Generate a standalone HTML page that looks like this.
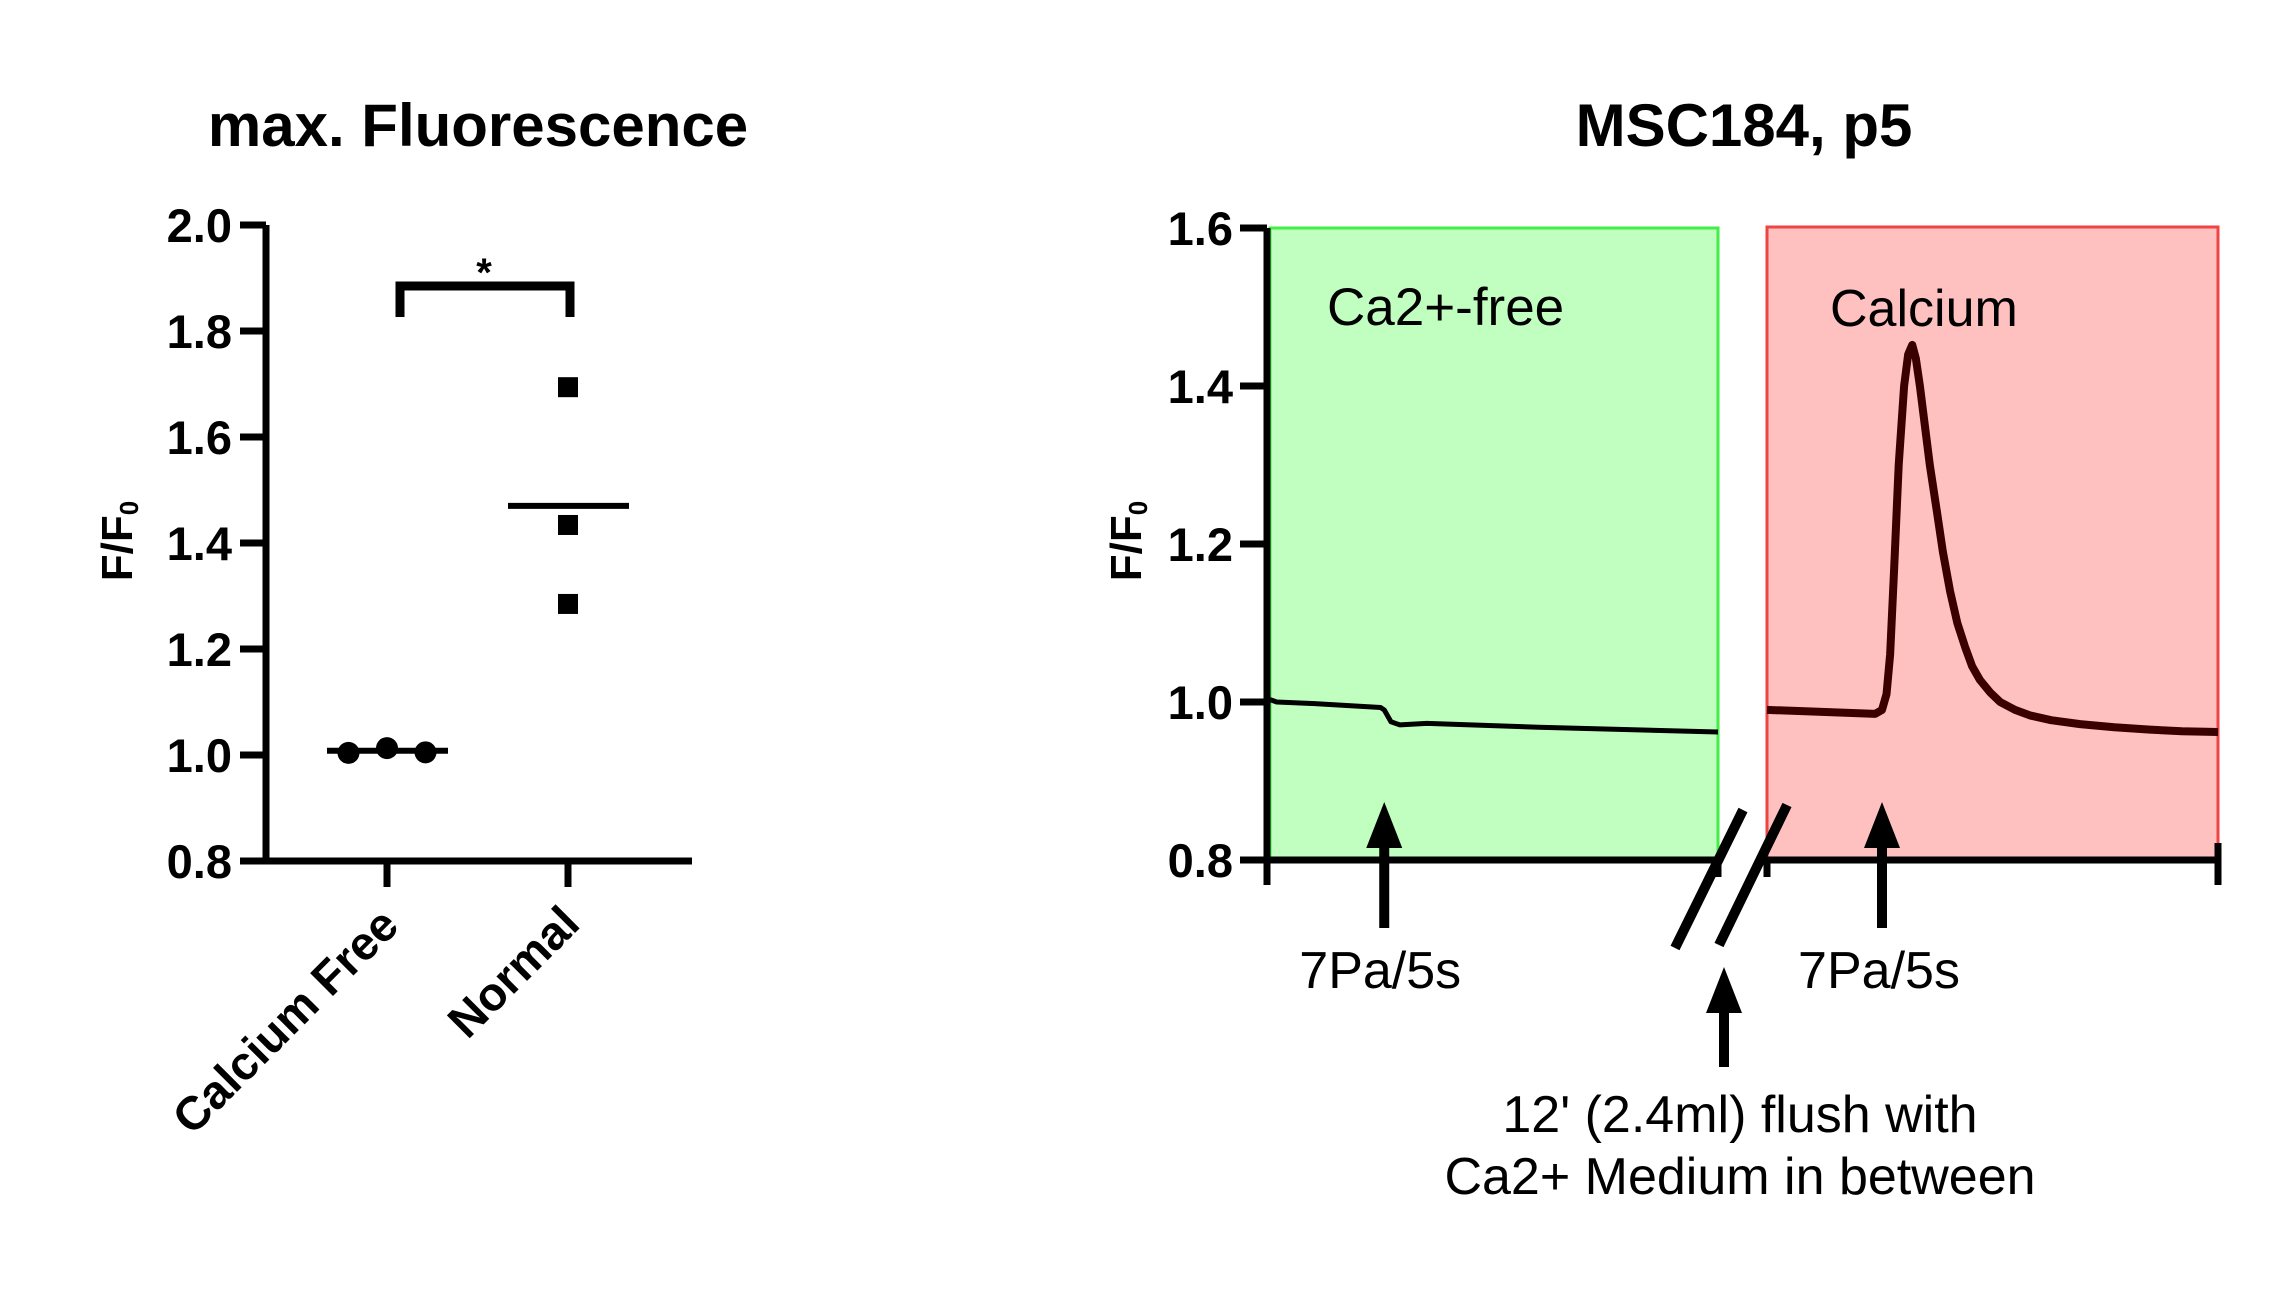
<!DOCTYPE html>
<html><head><meta charset="utf-8"><style>
html,body{margin:0;padding:0;background:#fff;}
svg{display:block;font-family:"Liberation Sans",Arial,sans-serif;}
</style></head><body>
<svg id="fig" width="2293" height="1294" viewBox="0 0 2293 1294" xmlns="http://www.w3.org/2000/svg">
<g id="left"></g>
<g id="right"></g>
</svg>
<script>
// ---- Left chart data ----
const leftCategories = ["Calcium Free", "Normal"];
const calciumFreeValues = [1.004, 1.013, 1.005];
const normalValues = [1.694, 1.434, 1.285];
const groupMeans = [1.008, 1.47];
const leftTicks = [0.8, 1.0, 1.2, 1.4, 1.6, 1.8, 2.0];
const leftTickLabels = ["0.8", "1.0", "1.2", "1.4", "1.6", "1.8", "2.0"];
// ---- Right chart data ----
const rightTicks = [0.8, 1.0, 1.2, 1.4, 1.6];
const rightTickLabels = ["0.8", "1.0", "1.2", "1.4", "1.6"];
const freeTime = [0, 1.5, 10, 24.7, 25.5, 27, 29, 35, 60, 100];
const freeValues = [1.003, 1.0, 0.998, 0.993, 0.99, 0.975, 0.971, 0.973, 0.968, 0.962];
const caTime = [0, 10, 24, 25.5, 26.5, 27.3, 28.2, 29.2, 30.4, 31.3, 32.2, 33.0, 33.9, 35.0, 36.1, 37.7, 39.0, 40.6, 42.2, 43.9, 45.5, 47.2, 49.5, 51.7, 55, 58.3, 63, 69.4, 77, 84.9, 92, 100];
const caValues = [0.99, 0.988, 0.985, 0.99, 1.01, 1.06, 1.17, 1.30, 1.40, 1.44, 1.452, 1.435, 1.40, 1.35, 1.30, 1.24, 1.19, 1.14, 1.10, 1.07, 1.045, 1.028, 1.012, 1.0, 0.99, 0.983, 0.977, 0.972, 0.968, 0.965, 0.963, 0.962];
const stimTime = [25.5, 25.5];

const NS = "http://www.w3.org/2000/svg";
function mk(parent, tag, attrs, text){
  const e = document.createElementNS(NS, tag);
  for (const k in attrs) e.setAttribute(k, attrs[k]);
  if (text !== undefined) e.textContent = text;
  parent.appendChild(e);
  return e;
}
const L = document.getElementById('left');
const R = document.getElementById('right');

// Left scales
const ly = v => 861 - (v - 0.8) * 530;
const lx = i => [387, 568][i];
let t = mk(L, 'text', {x:478, y:146, 'font-size':60, 'font-weight':'bold', 'text-anchor':'middle'}, 'max. Fluorescence');


let yt = mk(L, 'text', {x:0, y:0, 'font-size':44, 'font-weight':'bold', 'text-anchor':'middle', transform:'translate(132,541) rotate(-90)'});


yt.innerHTML = 'F/F<tspan font-size="26" dy="6">0</tspan>';
let ax = mk(L, 'path', {d:'M266 225 V861 M240 861 H692', stroke:'#000', 'stroke-width':7, fill:'none'});


leftTicks.forEach((v, i) => {
  const tk = mk(L, 'line', {x1:240, x2:266, y1:ly(v), y2:ly(v), stroke:'#000', 'stroke-width':7});
  
  
  const lb = mk(L, 'text', {x:232, y:ly(v) + 17, 'font-size':47, 'font-weight':'bold', 'text-anchor':'end'}, leftTickLabels[i]);
  
  
});
leftCategories.forEach((c, i) => {
  const tk = mk(L, 'line', {x1:lx(i), x2:lx(i), y1:861, y2:887, stroke:'#000', 'stroke-width':7});
  
  
  const ex = lx(i) + 14, ey = 928 - i * 2;
  const lb = mk(L, 'text', {x:0, y:0, 'font-size':47, 'font-weight':'bold', 'text-anchor':'end', transform:`translate(${ex},${ey}) rotate(-45)`}, c);
  
  
});
calciumFreeValues.forEach((v, i) => {
  const c = mk(L, 'circle', {cx:lx(0) + (i - 1) * 38.5, cy:ly(v), r:11, fill:'#000'});
  
  
});
normalValues.forEach(v => {
  const s = mk(L, 'rect', {x:lx(1) - 10, y:ly(v) - 10, width:20, height:20, fill:'#000'});
  
  
});
groupMeans.forEach((m, i) => {
  const ln = mk(L, 'line', {x1:lx(i) - 60, x2:lx(i) + 61, y1:ly(m), y2:ly(m), stroke:'#000', 'stroke-width':6});
  
  
});
let br = mk(L, 'path', {d:'M400 317 V286 H570 V317', stroke:'#000', 'stroke-width':9, fill:'none'});


let st = mk(L, 'text', {x:484, y:286, 'font-size':40, 'font-weight':'bold', 'text-anchor':'middle'}, '*');



// Right scales
const ry = v => 860 - (v - 0.8) * 790;
const gx = tm => 1270 + tm / 100 * 448;
const rx = tm => 1767 + tm / 100 * 451;
t = mk(R, 'text', {x:1744, y:146, 'font-size':60, 'font-weight':'bold', 'text-anchor':'middle'}, 'MSC184, p5');


let gr = mk(R, 'rect', {x:1270, y:228, width:448, height:632, fill:'#c0ffc0', stroke:'#44ee44', 'stroke-width':3});


let rr = mk(R, 'rect', {x:1767, y:227, width:451, height:633, fill:'#ffc0c0', stroke:'#ee4444', 'stroke-width':3});


let gl = mk(R, 'text', {x:1327, y:325, 'font-size':53}, 'Ca2+-free');


let cl = mk(R, 'text', {x:1830, y:326, 'font-size':52}, 'Calcium');


yt = mk(R, 'text', {x:0, y:0, 'font-size':44, 'font-weight':'bold', 'text-anchor':'middle', transform:'translate(1141,541) rotate(-90)'});


yt.innerHTML = 'F/F<tspan font-size="26" dy="6">0</tspan>';
rightTicks.forEach((v, i) => {
  const tk = mk(R, 'line', {x1:1240, x2:1267, y1:ry(v), y2:ry(v), stroke:'#000', 'stroke-width':7});
  
  
  const lb = mk(R, 'text', {x:1233, y:ry(v) + 17, 'font-size':47, 'font-weight':'bold', 'text-anchor':'end'}, rightTickLabels[i]);
  
  
});
ax = mk(R, 'path', {d:'M1267 228 V885 M1267 860 H1718 V877 M1767 877 V860 H2218 M2218 843 V885', stroke:'#000', 'stroke-width':7, fill:'none'});


let fp = mk(R, 'path', {d:freeTime.map((tm, i) => (i ? 'L' : 'M') + gx(tm) + ' ' + ry(freeValues[i])).join(' '), stroke:'#000', 'stroke-width':5, fill:'none', 'stroke-linejoin':'round'});


let cp = mk(R, 'path', {d:caTime.map((tm, i) => (i ? 'L' : 'M') + rx(tm) + ' ' + ry(caValues[i])).join(' '), stroke:'#3a0000', 'stroke-width':8, fill:'none', 'stroke-linejoin':'round'});


let bk = mk(R, 'path', {d:'M1675 948 L1743 810 M1719 945 L1787 805', stroke:'#000', 'stroke-width':10, fill:'none'});


function arrow(x, tip, base, bottom, name){
  const g = mk(R, 'g', {});
  
  
  mk(g, 'polygon', {points:`${x},${tip} ${x-18},${base} ${x+18},${base}`, fill:'#000'});
  mk(g, 'line', {x1:x, x2:x, y1:base - 2, y2:bottom, stroke:'#000', 'stroke-width':10});
}
arrow(gx(stimTime[0]), 802, 848, 928, 'stimulus-arrow-free');
arrow(rx(stimTime[1]), 802, 848, 928, 'stimulus-arrow-calcium');
arrow(1724, 967, 1013, 1067, 'flush-arrow');
let s1 = mk(R, 'text', {x:gx(stimTime[0]) - 4, y:988, 'font-size':52, 'text-anchor':'middle'}, '7Pa/5s');


let s2 = mk(R, 'text', {x:rx(stimTime[1]) - 3, y:988, 'font-size':52, 'text-anchor':'middle'}, '7Pa/5s');


let f1 = mk(R, 'text', {x:1740, y:1132, 'font-size':52, 'text-anchor':'middle'}, "12' (2.4ml) flush with");


let f2 = mk(R, 'text', {x:1740, y:1194, 'font-size':52, 'text-anchor':'middle'}, 'Ca2+ Medium in between');


</script>
</body></html>
